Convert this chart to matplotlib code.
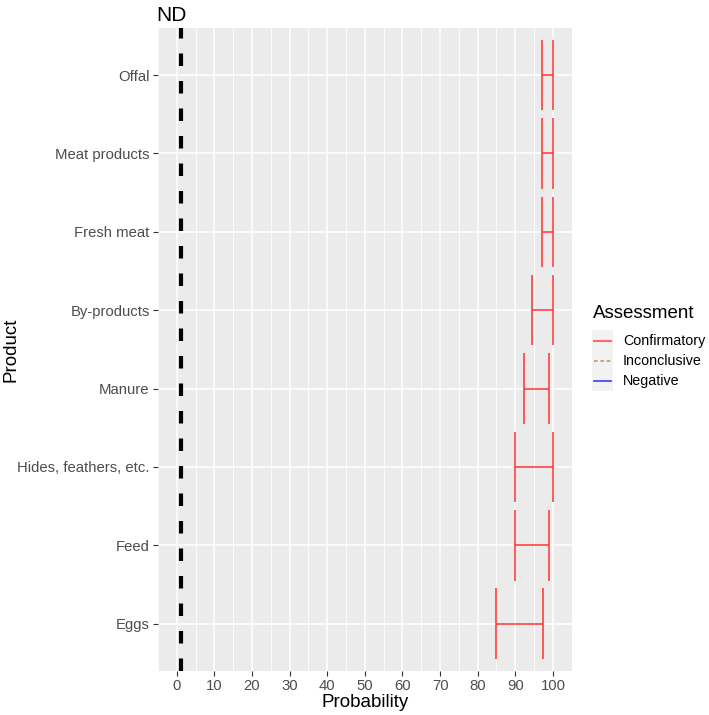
import matplotlib
matplotlib.use("Agg")
import matplotlib.pyplot as plt
from matplotlib.lines import Line2D
from matplotlib.patches import Rectangle
import numpy as np

products = ["Eggs", "Feed", "Hides, feathers, etc.", "Manure", "By-products",
            "Fresh meat", "Meat products", "Offal"]
lower = [85.0, 90.0, 90.0, 92.4, 94.5, 97.0, 97.0, 97.0]
upper = [97.4, 99.0, 100.0, 99.0, 100.0, 100.0, 100.0, 100.0]
assessment = ["Confirmatory"] * 8
nd_value = 1.2
x_ticks = list(range(0, 101, 10))
legend_labels = ["Confirmatory", "Inconclusive", "Negative"]

colors = {"Confirmatory": "#FF3030", "Inconclusive": "#C49A50", "Negative": "#3B3BFF"}

plt.rcParams['font.family'] = ['Liberation Sans', 'DejaVu Sans']

W, H = 709, 715
fig = plt.figure(figsize=(W / 100, H / 100), dpi=100)
ax = fig.add_axes([158/W, 1-670.7/H, (571.7-158)/W, (670.7-28)/H])
ax.set_facecolor("#EBEBEB")
for s in ax.spines.values():
    s.set_visible(False)

ax.set_xlim(-5, 105)
ax.set_ylim(0.4, len(products) + 0.6)

# grid
for v in np.arange(-5, 106, 10):
    ax.axvline(v, color="white", lw=0.6, zorder=0.5)
for v in x_ticks:
    ax.axvline(v, color="white", lw=1.1, zorder=0.6)
ypos = np.arange(1, len(products) + 1)
for y in ypos:
    ax.axhline(y, color="white", lw=1.1, zorder=0.6)

ax.axvline(nd_value, color="black", lw=3, ls=(0, (3.0, 3.6)), zorder=3)

h = 0.45
for y, lo, hi, a in zip(ypos, lower, upper, assessment):
    c = colors[a]
    ax.plot([lo, hi], [y, y], color=c, lw=1.1, zorder=4, solid_capstyle="butt")
    ax.plot([lo, lo], [y - h, y + h], color=c, lw=1.1, zorder=4, solid_capstyle="butt")
    ax.plot([hi, hi], [y - h, y + h], color=c, lw=1.1, zorder=4, solid_capstyle="butt")

ax.set_xticks(x_ticks)
ax.set_xticklabels([str(t) for t in x_ticks])
ax.set_yticks(ypos)
ax.set_yticklabels(products)
ax.tick_params(axis="both", colors="#333333", labelcolor="#4D4D4D", labelsize=10.7,
               length=3.5, width=0.8, pad=2.5)

ax.set_xlabel("Probability", fontsize=13.5, color="black", labelpad=1)
ax.set_ylabel("Product", fontsize=13.5, color="black")
ax.yaxis.set_label_coords((20 - 158) / (571.7 - 158), 0.5)
ax.set_title("ND", loc="left", fontsize=15, x=-0.005, pad=5)

# legend drawn manually in figure pixel coordinates
def fx(px):
    return px / W

def fy(py):
    return 1 - py / H

fig.text(fx(593), fy(313), "Assessment", fontsize=13.5, va="center", ha="left")
fig.patches.append(Rectangle((fx(592), fy(391)), fx(613) - fx(592), fy(330) - fy(391),
                             transform=fig.transFigure, facecolor="#F2F2F2",
                             edgecolor="none", figure=fig))
key_styles = [
    dict(color="#FF6A6A", lw=1.5, ls="-"),
    dict(color=colors["Inconclusive"], lw=1.2, ls=(0, (2.2, 1.6))),
    dict(color=colors["Negative"], lw=1.2, ls="-"),
]
for i, (lab, st) in enumerate(zip(legend_labels, key_styles)):
    yy = 341 + 20 * i
    fig.add_artist(Line2D([fx(594), fx(611)], [fy(yy), fy(yy)],
                          transform=fig.transFigure, **st))
    fig.text(fx(623), fy(yy), lab, fontsize=10.3, va="center", ha="left", color="black")

fig.savefig("out.png", dpi=100)
